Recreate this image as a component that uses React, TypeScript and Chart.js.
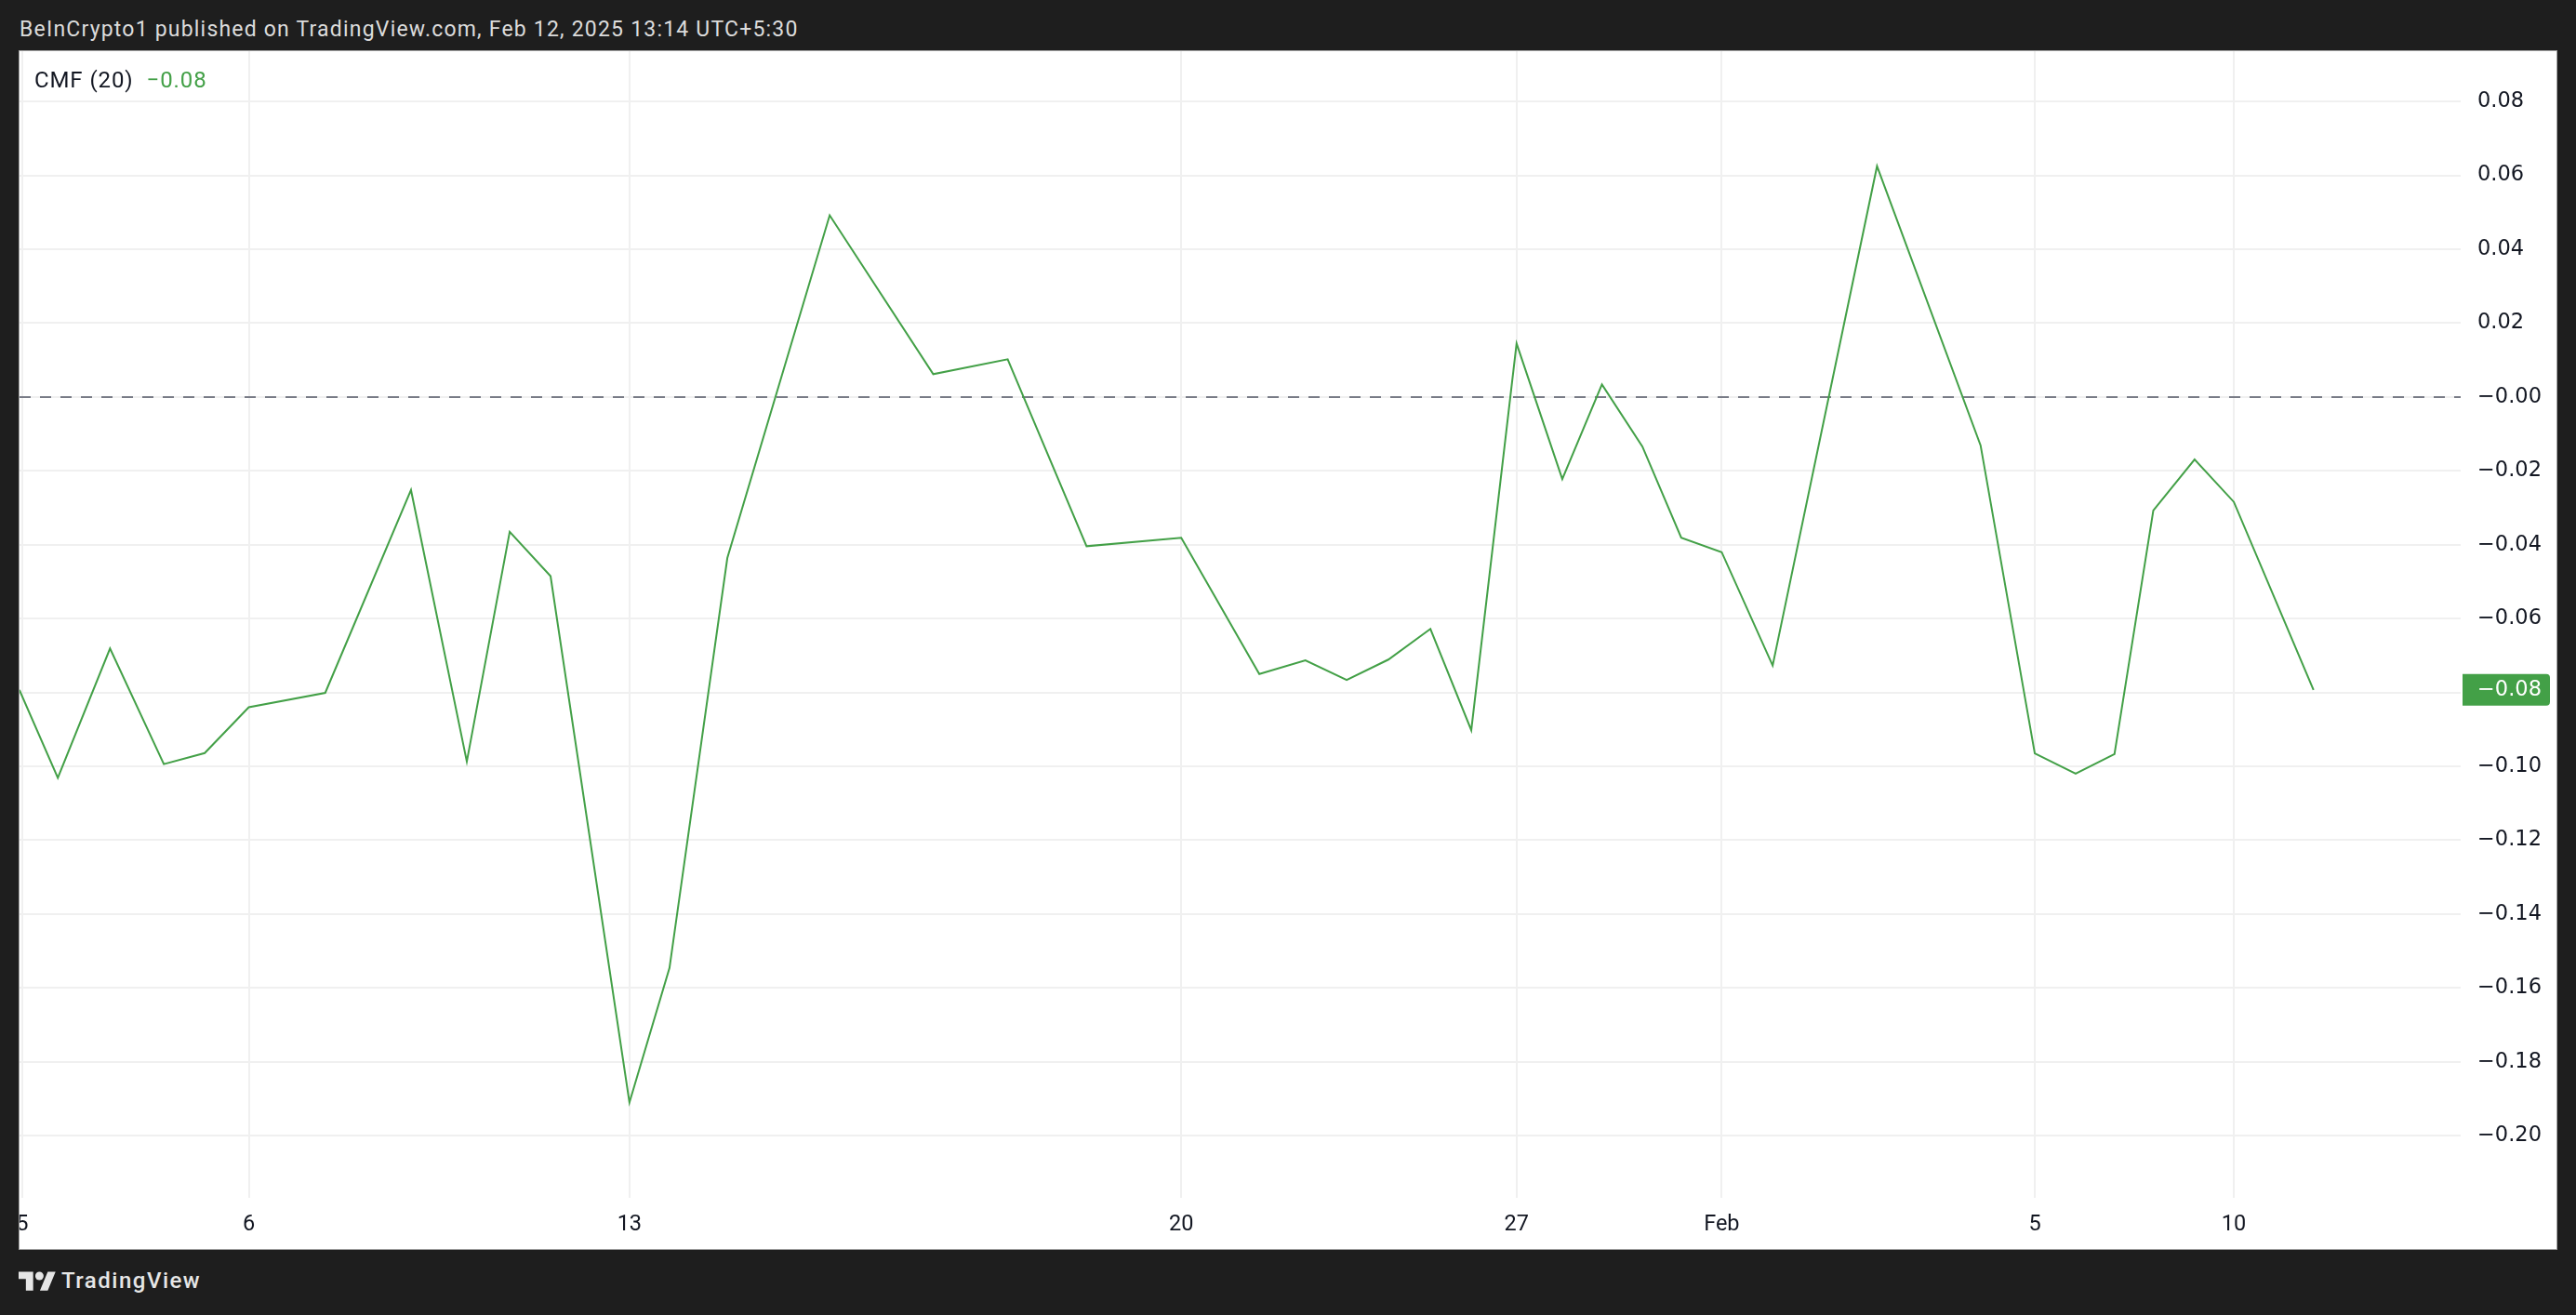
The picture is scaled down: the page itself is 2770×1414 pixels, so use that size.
import React, { useEffect, useRef } from "react";
import { Chart, registerables } from "chart.js";

Chart.register(...registerables);

// ---- data (x = bar index, 0 = the "6" Jan bar) ----
const barIndex = [
  -5.67, -4.72, -3.43, -2.1, -1.09, 0, 1.89, 4.01, 5.39, 6.45, 7.46, 9.41, 10.4, 11.83,
  14.36, 16.92, 18.76, 20.71, 23.05, 24.98, 26.12, 27.14, 28.17, 29.21, 30.22, 31.34,
  32.47, 33.45, 34.45, 35.41, 36.41, 37.67, 40.25, 42.81, 44.15, 45.16, 46.12, 47.08,
  48.1, 49.07, 51.04,
];
const cmfValues = [
  -0.0793, -0.1031, -0.0681, -0.0994, -0.0964, -0.084, -0.0801, -0.0252, -0.0987, -0.0365,
  -0.0485, -0.191, -0.1546, -0.0436, 0.0492, 0.0062, 0.0102, -0.0404, -0.0381, -0.075,
  -0.0713, -0.0766, -0.0711, -0.0628, -0.0902, 0.0145, -0.0222, 0.0034, -0.0134, -0.0381,
  -0.042, -0.0727, 0.0625, -0.0131, -0.0965, -0.102, -0.0967, -0.0307, -0.0169, -0.0284,
  -0.0793,
];
const xTickPositions = [-5.6, 0, 9.41, 23.05, 31.34, 36.41, 44.15, 49.07];
const xTickLabels = ["5", "6", "13", "20", "27", "Feb", "5", "10"];
const yTickValues = [0.08, 0.06, 0.04, 0.02, 0, -0.02, -0.04, -0.06, -0.08, -0.1, -0.12, -0.14, -0.16, -0.18, -0.2];
const yTickLabels = ["0.08", "0.06", "0.04", "0.02", "\u22120.00", "\u22120.02", "\u22120.04", "\u22120.06", "\u22120.08", "\u22120.10", "\u22120.12", "\u22120.14", "\u22120.16", "\u22120.18", "\u22120.20"];
const xRange = [-5.667, 54.678];
const yRange = [-0.21682, 0.09364];
const indicatorName = "CMF (20)";
const lastValueLabel = "\u22120.08";
const headerText = "BeInCrypto1 published on TradingView.com, Feb 12, 2025 13:14 UTC+5:30";

const GREEN = "#43a047";
const AXIS_FONT = "DejaVu Sans";

const overlayPlugin = {
  id: "overlay",
  beforeDatasetsDraw(chart: any) {
    const { ctx, chartArea, scales } = chart;
    const py = Math.round(scales.y.getPixelForValue(0));
    ctx.save();
    ctx.strokeStyle = "#787b86";
    ctx.lineWidth = 2;
    ctx.setLineDash([12, 10]);
    ctx.beginPath();
    ctx.moveTo(chartArea.left, py);
    ctx.lineTo(chartArea.right, py);
    ctx.stroke();
    ctx.restore();
  },
  afterDraw(chart: any) {
    const { ctx, chartArea, scales } = chart;
    const last = cmfValues[cmfValues.length - 1];
    const py = scales.y.getPixelForValue(last);
    const h = 34;
    const left = chartArea.right + 2;
    const w = 94;
    ctx.save();
    ctx.fillStyle = GREEN;
    ctx.beginPath();
    ctx.roundRect(left, py - h / 2, w, h, [0, 4, 4, 0]);
    ctx.fill();
    ctx.fillStyle = "#ffffff";
    ctx.font = `22.5px "${AXIS_FONT}"`;
    ctx.textAlign = "left";
    ctx.textBaseline = "middle";
    ctx.fillText(lastValueLabel, chartArea.right + 18, py);
    ctx.restore();
  },
};

function CmfChart() {
  const ref = useRef<HTMLCanvasElement | null>(null);
  useEffect(() => {
    if (!ref.current) return;
    const points = barIndex.map((x, i) => ({ x, y: cmfValues[i] }));
    const chart = new Chart(ref.current, {
      type: "line",
      data: {
        datasets: [
          {
            label: indicatorName,
            data: points,
            borderColor: GREEN,
            borderWidth: 2,
            pointRadius: 0,
            tension: 0,
            fill: false,
          },
        ],
      },
      options: {
        animation: false,
        responsive: false,
        maintainAspectRatio: false,
        devicePixelRatio: 1,
        events: [],
        layout: { padding: 0 },
        plugins: { legend: { display: false }, tooltip: { enabled: false }, title: { display: false } },
        scales: {
          x: {
            type: "linear",
            min: xRange[0],
            max: xRange[1],
            afterBuildTicks: (s: any) => {
              s.ticks = xTickPositions.map((v) => ({ value: v }));
            },
            afterFit: (s: any) => {
              s.height = 55;
              s.paddingLeft = 0;
              s.paddingRight = 0;
            },
            grid: { color: "#f0f0f0", lineWidth: 2, drawTicks: false },
            border: { display: false },
            ticks: {
              autoSkip: false,
              maxRotation: 0,
              padding: 15,
              color: "#131722",
              font: { family: "Roboto", size: 23.5 },
              callback: (v: any) => {
                const i = xTickPositions.findIndex((p) => Math.abs(p - Number(v)) < 1e-9);
                return i >= 0 ? xTickLabels[i] : "";
              },
            },
          },
          y: {
            type: "linear",
            position: "right",
            min: yRange[0],
            max: yRange[1],
            afterBuildTicks: (s: any) => {
              s.ticks = yTickValues.map((v) => ({ value: v }));
            },
            afterFit: (s: any) => {
              s.width = 103;
              s.paddingTop = 0;
              s.paddingBottom = 0;
            },
            grid: { color: "#f0f0f0", lineWidth: 2, drawTicks: false },
            border: { display: false },
            ticks: {
              padding: 18,
              crossAlign: "near",
              color: "#131722",
              font: { family: AXIS_FONT, size: 22.5 },
              callback: (v: any) => {
                const i = yTickValues.findIndex((p) => Math.abs(p - Number(v)) < 1e-9);
                return i >= 0 ? yTickLabels[i] : "";
              },
            },
          },
        },
      },
      plugins: [overlayPlugin],
    } as any);
    return () => chart.destroy();
  }, []);
  return <canvas ref={ref} width={2728} height={1288} style={{ display: "block", width: 2728, height: 1288 }} />;
}

export default function App() {
  return (
    <div
      style={{
        position: "fixed",
        left: 0,
        top: 0,
        width: 2770,
        height: 1414,
        background: "#1e1e1e",
        overflow: "hidden",
        fontFamily: "Roboto, sans-serif",
      }}
    >
      <div
        style={{
          position: "absolute",
          left: 21,
          top: 20,
          fontSize: 23,
          lineHeight: 1,
          letterSpacing: 1.2,
          color: "#dcdcdc",
          whiteSpace: "nowrap",
        }}
      >
        {headerText}
      </div>
      <div
        style={{
          position: "absolute",
          left: 20,
          top: 54,
          width: 2728,
          height: 1288,
          border: "1px solid #a0a0a0",
          background: "#ffffff",
        }}
      >
        <CmfChart />
        <div
          style={{
            position: "absolute",
            left: 16,
            top: 19,
            fontSize: 24,
            lineHeight: 1,
            letterSpacing: 0.9,
            color: "#131722",
            whiteSpace: "nowrap",
          }}
        >
          {indicatorName}
          <span style={{ color: GREEN, marginLeft: 14 }}>{lastValueLabel}</span>
        </div>
      </div>
      <svg
        style={{ position: "absolute", left: 20, top: 1363 }}
        width={40.3}
        height={31.4}
        viewBox="0 0 36 28"
      >
        <path d="M14 22H7V11H0V4h14v18zM28 22h-7.5l7.5-18h7.5L28 22z" fill="#e6e6e6" />
        <circle cx="20" cy="8" r="4" fill="#e6e6e6" />
      </svg>
      <div
        style={{
          position: "absolute",
          left: 66,
          top: 1365,
          fontSize: 24,
          lineHeight: 1,
          fontWeight: 500,
          letterSpacing: 1.5,
          color: "#e6e6e6",
          whiteSpace: "nowrap",
        }}
      >
        TradingView
      </div>
    </div>
  );
}
